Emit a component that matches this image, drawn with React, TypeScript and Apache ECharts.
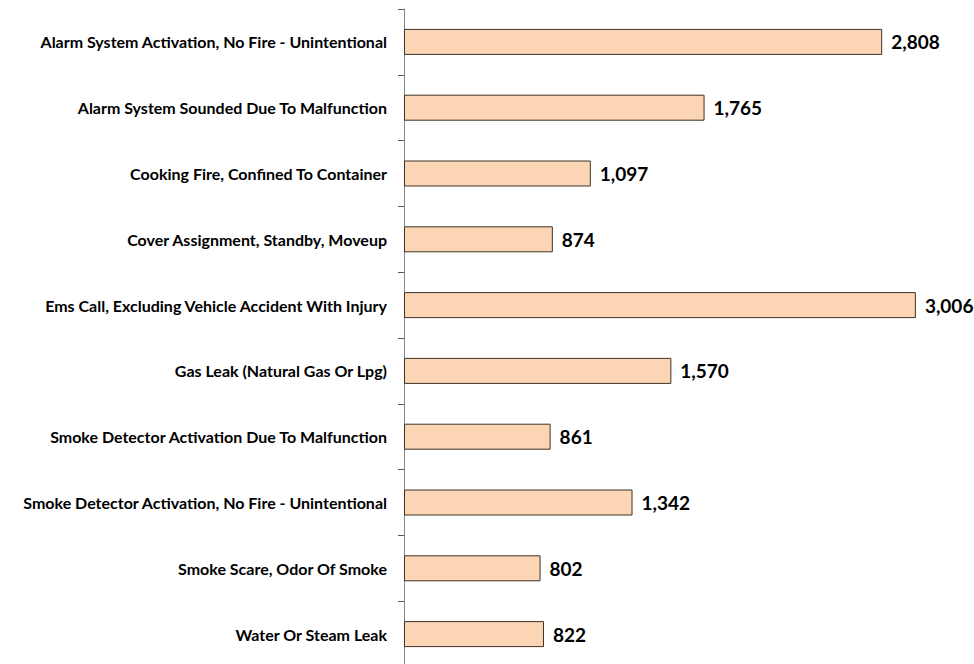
import React, { useEffect, useRef } from "react";
import * as echarts from "echarts";

const categories = [
  "Alarm System Activation, No Fire - Unintentional",
  "Alarm System Sounded Due To Malfunction",
  "Cooking Fire, Confined To Container",
  "Cover Assignment, Standby, Moveup",
  "Ems Call, Excluding Vehicle Accident With Injury",
  "Gas Leak (Natural Gas Or Lpg)",
  "Smoke Detector Activation Due To Malfunction",
  "Smoke Detector Activation, No Fire - Unintentional",
  "Smoke Scare, Odor Of Smoke",
  "Water Or Steam Leak",
];
const values = [2808, 1765, 1097, 874, 3006, 1570, 861, 1342, 802, 822];

export default function App() {
  const ref = useRef<HTMLDivElement>(null);
  useEffect(() => {
    if (!ref.current) return;
    const chart = echarts.init(ref.current, null, { renderer: "svg" });
    chart.setOption({
      animation: false,
      grid: { left: 404, top: 9, width: 596, height: 658, containLabel: false },
      xAxis: {
        type: "value",
        min: 0,
        max: 3500,
        show: false,
      },
      yAxis: {
        type: "category",
        data: categories,
        inverse: true,
        axisLine: { show: true, lineStyle: { color: "#888888", width: 1 } },
        axisTick: { show: true, length: 6, lineStyle: { color: "#555555" } },
        axisLabel: {
          margin: 17,
          color: "#000",
          fontWeight: "bold",
          fontSize: 16,
          fontFamily: "Lato",
        },
      },
      series: [
        {
          type: "bar",
          data: values,
          barWidth: 26,
          itemStyle: { color: "#FCD5B5", borderColor: "#3d3226", borderWidth: 1 },
          label: {
            show: true,
            position: "right",
            distance: 9,
            color: "#000",
            fontWeight: "bold",
            fontSize: 19,
            fontFamily: "Lato",
            formatter: (p: any) => p.value.toLocaleString("en-US"),
          },
        },
      ],
    });
    return () => chart.dispose();
  }, []);
  return (
    <div style={{ position: "absolute", left: 0, top: 0, width: 974, height: 664, overflow: "hidden", background: "#fff" }}>
      <div ref={ref} style={{ width: 1010, height: 680 }} />
    </div>
  );
}
